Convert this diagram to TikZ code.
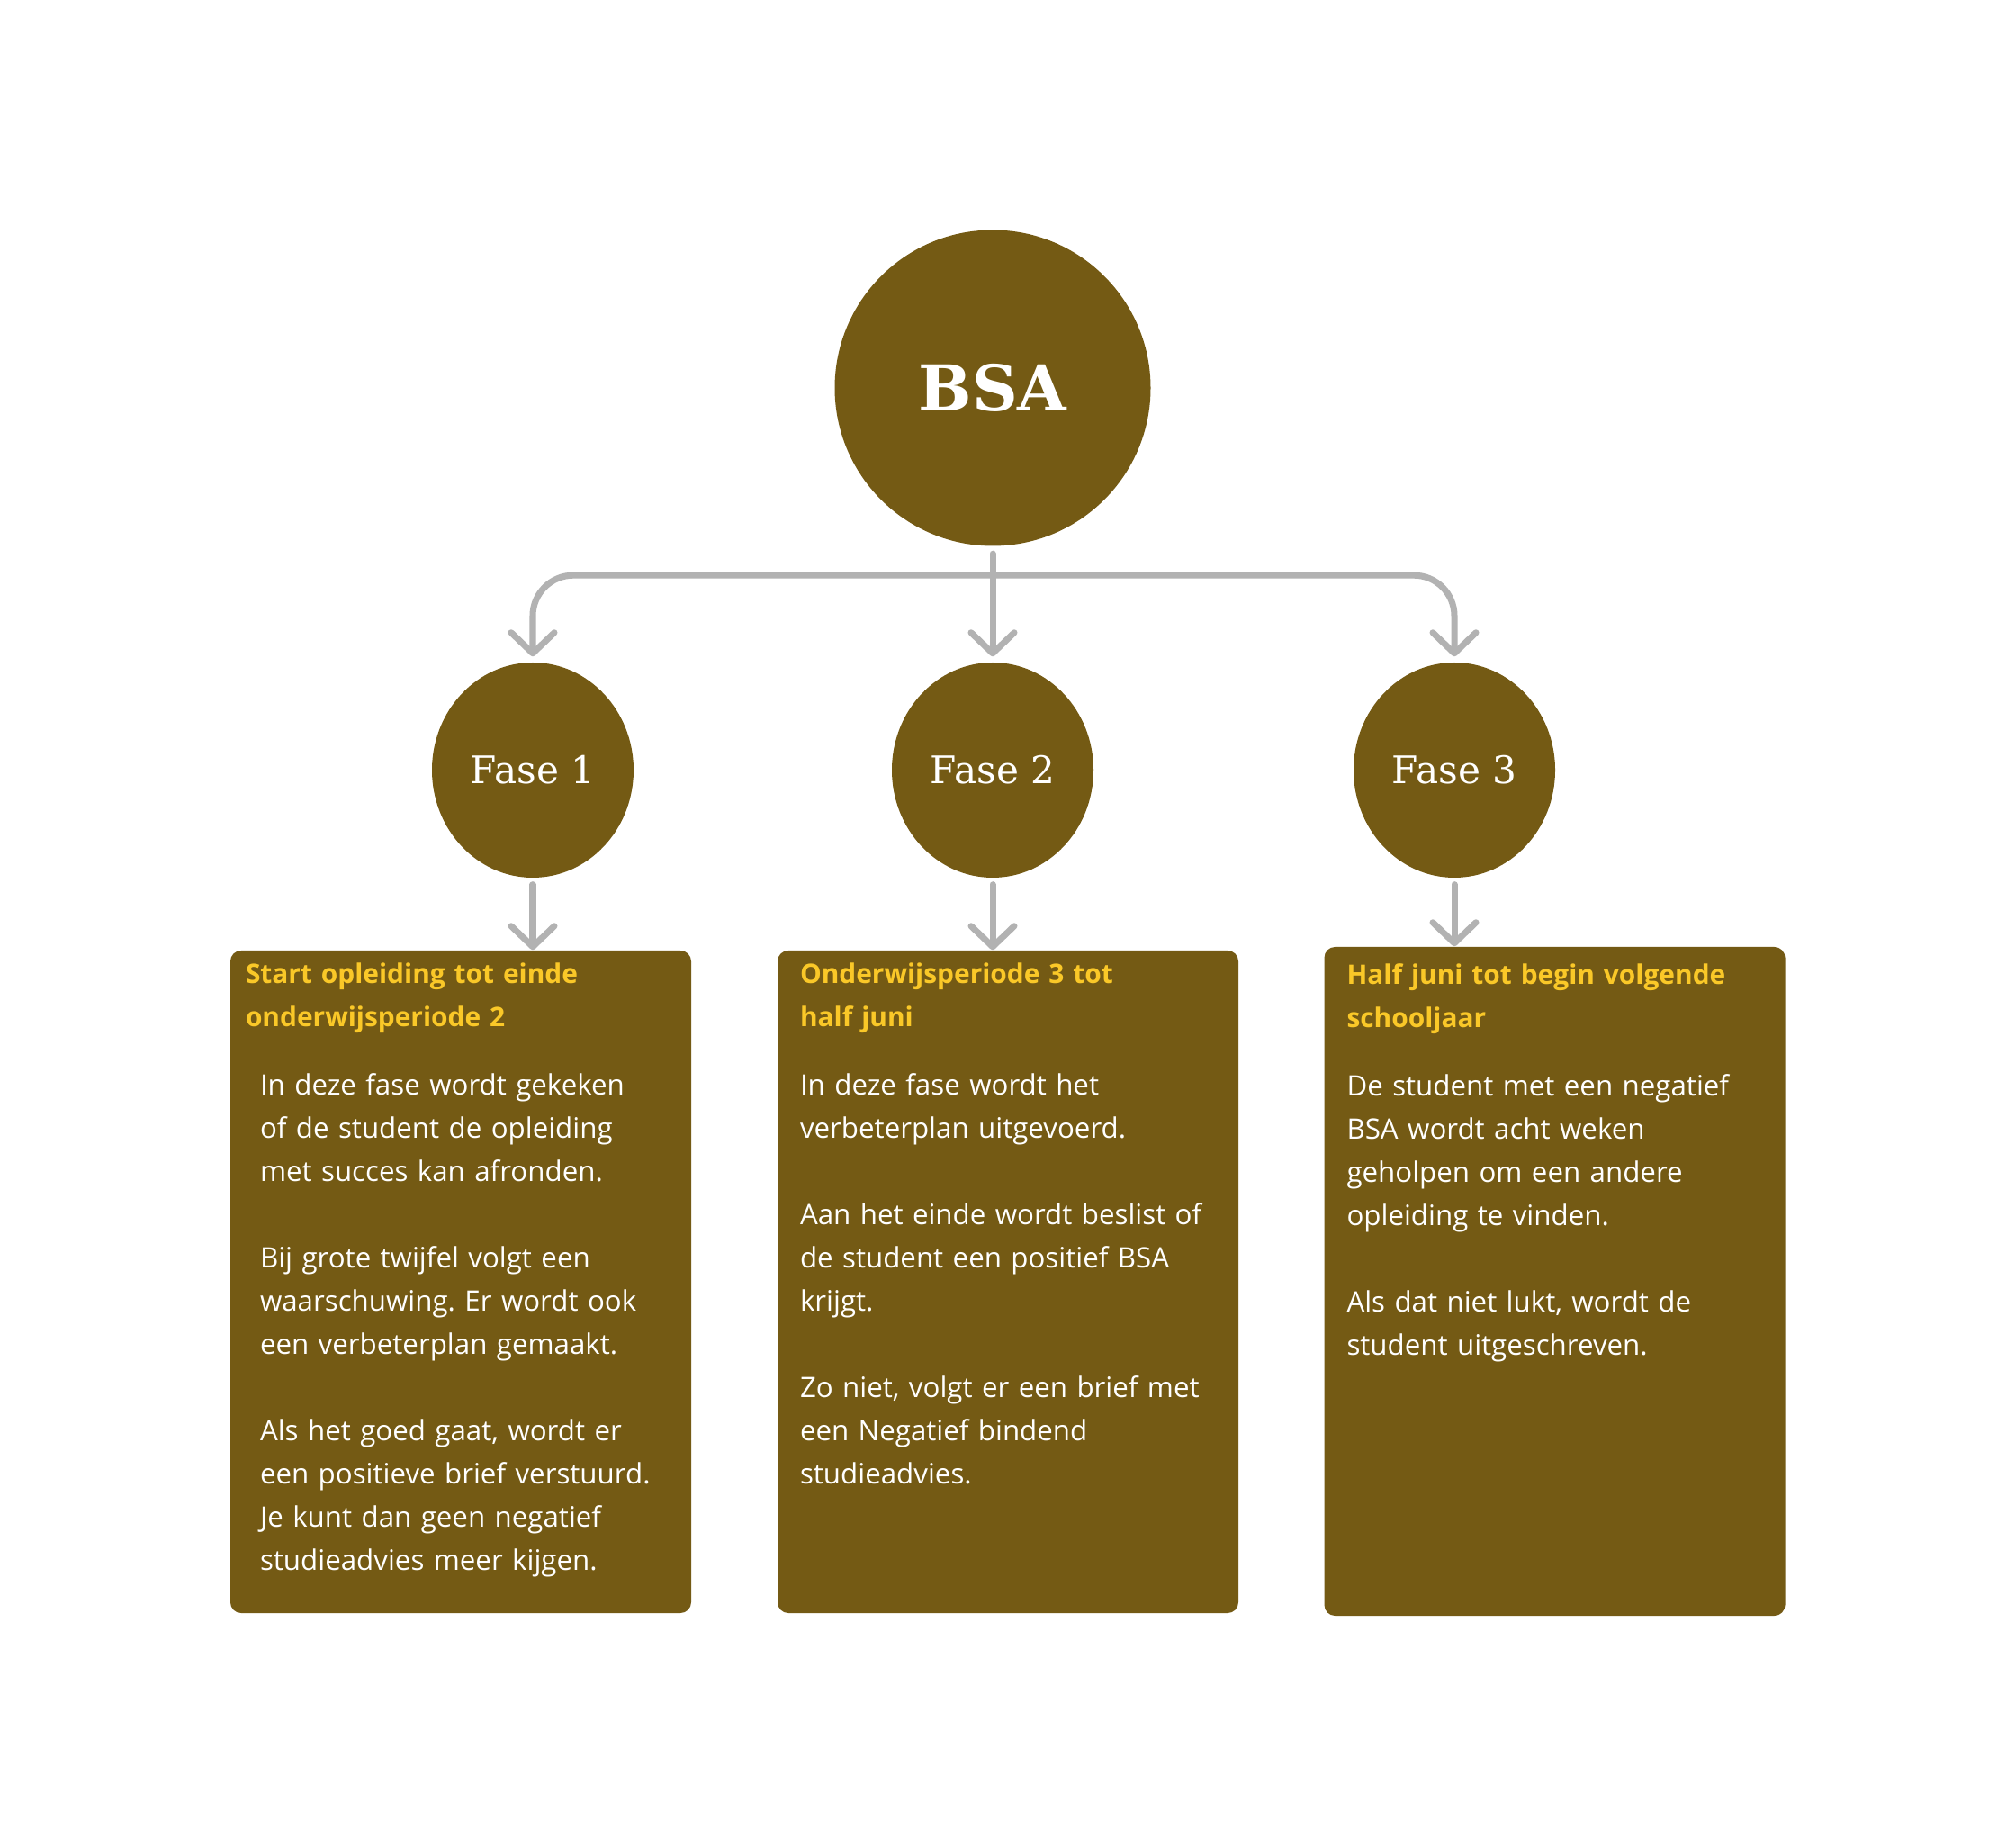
\documentclass[tikz,border=0pt]{standalone}
\usepackage{fontspec}
\setmainfont{Open Sans}
\newfontfamily\serifhead{DejaVu Serif}
\usetikzlibrary{shapes.geometric,arrows.meta,positioning,calc}
\definecolor{bsabrown}{RGB}{116,90,20}
\definecolor{bsayellow}{RGB}{250,200,40}
\definecolor{linkgray}{RGB}{178,178,178}
\frenchspacing
\tikzset{
  bsa_root/.style={circle,fill=bsabrown,
    minimum size=3.51cm,inner sep=0pt,text=white,
    font=\serifhead\bfseries\fontsize{20}{24}\selectfont},
  bsa_fase/.style={ellipse,fill=bsabrown,
    minimum width=2.24cm,minimum height=2.39cm,inner sep=0pt,
    text=white,font=\serifhead\fontsize{12}{14}\selectfont},
  bsa_box/.style={rectangle,rounded corners=3.4pt,fill=bsabrown,
    minimum width=5.12cm,minimum height=7.36cm,inner sep=0pt},
  bsa_title/.style={anchor=base west,inner sep=0pt,
    text width=5.4cm,align=left,text=bsayellow,
    font=\bfseries\fontsize{8.5}{13.66}\selectfont},
  bsa_text/.style={anchor=base west,inner sep=0pt,
    text width=5.4cm,align=left,text=white,
    font=\fontsize{8.9}{13.66}\selectfont},
  arr/.style={-{Straight Barb[length=2.3mm,width=4.8mm,round]},
    line width=2pt,draw=linkgray,line cap=round},
}

\begin{document}
\begin{tikzpicture}
  \useasboundingbox[fill=white] (0,0) rectangle (22.4,20.52);
  % top level
  \node (bsa) [bsa_root] at (11.03,16.21) {BSA};
  % phases
  \node (fase1) [bsa_fase] at (5.92,11.965) {Fase 1};
  \node (fase2) [bsa_fase] at (11.03,11.965) {Fase 2};
  \node (fase3) [bsa_fase] at (16.16,11.965) {Fase 3};
  % description boxes
  \node (box1) [bsa_box] at (5.12,6.28) {};
  \node (box2) [bsa_box] at (11.20,6.28) {};
  \node (box3) [bsa_box,minimum height=7.43cm] at (17.275,6.285) {};

  \node (t1) [bsa_title] at ([xshift=0.17cm,yshift=-0.37cm]box1.north west)
    {Start opleiding tot einde\\ onderwijsperiode 2};
  \node (d1) [bsa_text] at ([xshift=0.33cm,yshift=-1.61cm]box1.north west)
    {In deze fase wordt gekeken\\
     of de student de opleiding\\
     met succes kan afronden.\\[\baselineskip]
     Bij grote twijfel volgt een\\
     waarschuwing. Er wordt ook\\
     een verbeterplan gemaakt.\\[\baselineskip]
     Als het goed gaat, wordt er\\
     een positieve brief verstuurd.\\
     Je kunt dan geen negatief\\
     studieadvies meer kijgen.};

  \node (t2) [bsa_title] at ([xshift=0.25cm,yshift=-0.37cm]box2.north west)
    {Onderwijsperiode 3 tot\\ half juni};
  \node (d2) [bsa_text] at ([xshift=0.25cm,yshift=-1.61cm]box2.north west)
    {In deze fase wordt het\\
     verbeterplan uitgevoerd.\\[\baselineskip]
     Aan het einde wordt beslist of\\
     de student een positief BSA\\
     krijgt.\\[\baselineskip]
     Zo niet, volgt er een brief met\\
     een Negatief bindend\\
     studieadvies.};

  \node (t3) [bsa_title] at ([xshift=0.25cm,yshift=-0.42cm]box3.north west)
    {Half juni tot begin volgende\\ schooljaar};
  \node (d3) [bsa_text] at ([xshift=0.25cm,yshift=-1.66cm]box3.north west)
    {De student met een negatief\\
     BSA wordt acht weken\\
     geholpen om een andere\\
     opleiding te vinden.\\[\baselineskip]
     Als dat niet lukt, wordt de\\
     student uitgeschreven.};

  % connectors
  \coordinate (split) at ([yshift=-0.32cm]bsa.south);
  \draw[arr,shorten <=0.08cm,shorten >=0.06cm] (bsa.south) -- (fase2.north);
  \draw[arr,rounded corners=0.45cm,shorten >=0.06cm] (split) -| (fase1.north);
  \draw[arr,rounded corners=0.45cm,shorten >=0.06cm] (split) -| (fase3.north);
  \draw[arr,shorten <=0.07cm] (fase1.south) -- (fase1.south |- box1.north);
  \draw[arr,shorten <=0.07cm] (fase2.south) -- (fase2.south |- box2.north);
  \draw[arr,shorten <=0.07cm] (fase3.south) -- (fase3.south |- box3.north);
\end{tikzpicture}
\end{document}
